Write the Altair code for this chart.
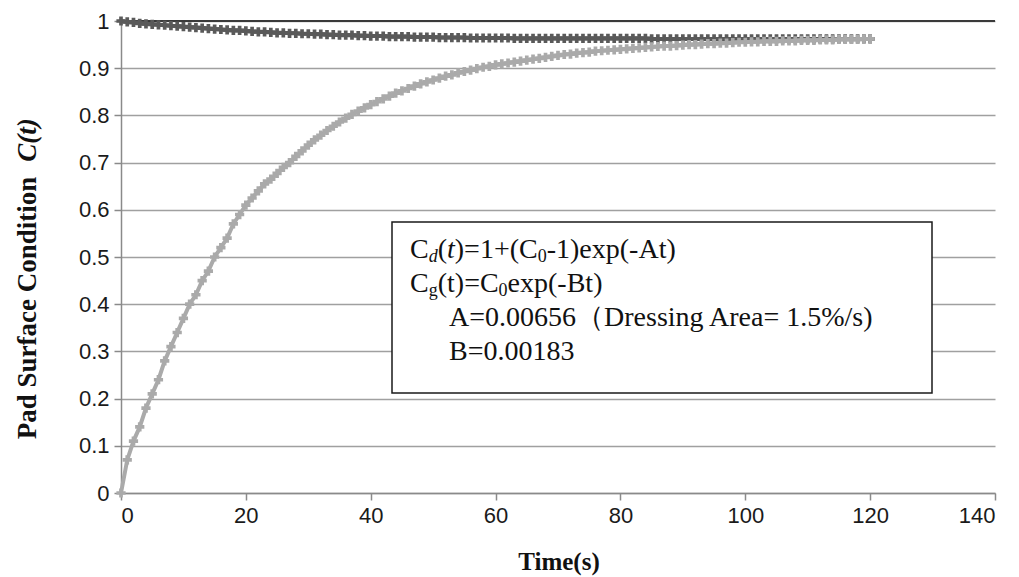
import altair as alt
import pandas as pd

# Elapsed polishing time (s)
time_s = list(range(0, 121))

# Pad surface condition recovering under dressing (light series)
cond_dressing = [
    0.000, 0.070, 0.110, 0.140, 0.180, 0.210, 0.240, 0.280, 0.310, 0.340,
    0.370, 0.400, 0.420, 0.450, 0.470, 0.500, 0.520, 0.540, 0.570, 0.590,
    0.610, 0.625, 0.640, 0.655, 0.665, 0.677, 0.690, 0.700, 0.713, 0.725,
    0.737, 0.748, 0.758, 0.768, 0.777, 0.786, 0.794, 0.802, 0.809, 0.816,
    0.823, 0.829, 0.835, 0.841, 0.847, 0.852, 0.857, 0.862, 0.867, 0.871,
    0.875, 0.879, 0.883, 0.886, 0.890, 0.893, 0.896, 0.899, 0.902, 0.904,
    0.907, 0.909, 0.911, 0.913, 0.915, 0.917, 0.919, 0.921, 0.923, 0.925,
    0.927, 0.929, 0.930, 0.932, 0.933, 0.934, 0.936, 0.937, 0.938, 0.939,
    0.940, 0.941, 0.942, 0.943, 0.944, 0.945, 0.946, 0.947, 0.947, 0.948,
    0.949, 0.950, 0.950, 0.951, 0.952, 0.952, 0.953, 0.953, 0.954, 0.955,
    0.955, 0.956, 0.956, 0.957, 0.957, 0.957, 0.958, 0.958, 0.958, 0.959,
    0.959, 0.959, 0.960, 0.960, 0.960, 0.961, 0.961, 0.961, 0.961, 0.962,
    0.962,
]

# Pad surface condition degrading by glazing (dark series)
cond_glazing = [
    1.000, 0.998, 0.997, 0.995, 0.994, 0.993, 0.992, 0.991, 0.990, 0.989,
    0.988, 0.987, 0.986, 0.985, 0.984, 0.983, 0.982, 0.981, 0.980, 0.980,
    0.979, 0.978, 0.977, 0.977, 0.976, 0.975, 0.975, 0.974, 0.974, 0.973,
    0.973, 0.972, 0.972, 0.971, 0.971, 0.970, 0.970, 0.970, 0.969, 0.969,
    0.968, 0.968, 0.968, 0.967, 0.967, 0.967, 0.967, 0.966, 0.966, 0.966,
    0.966, 0.965, 0.965, 0.965, 0.965, 0.965, 0.964, 0.964, 0.964, 0.964,
    0.964, 0.964, 0.964, 0.963, 0.963, 0.963, 0.963, 0.963, 0.963, 0.963,
    0.963, 0.963, 0.963, 0.963, 0.963, 0.963, 0.963, 0.963, 0.963, 0.963,
    0.963, 0.963, 0.963, 0.963, 0.963, 0.962, 0.962, 0.962, 0.962, 0.962,
    0.962, 0.962, 0.962, 0.962, 0.962, 0.962, 0.962, 0.962, 0.962, 0.962,
    0.962, 0.962, 0.962, 0.962, 0.962, 0.962, 0.962, 0.962, 0.962, 0.962,
    0.962, 0.962, 0.962, 0.962, 0.962, 0.962, 0.962, 0.962, 0.962, 0.962,
    0.962,
]

x_ticks = [0, 20, 40, 60, 80, 100, 120, 140]
y_ticks = [0, 0.1, 0.2, 0.3, 0.4, 0.5, 0.6, 0.7, 0.8, 0.9, 1]

DARK = "#5a5a5a"
LIGHT = "#aaaaaa"
AXIS_GRAY = "#8a8a8a"
SERIF = "Liberation Serif"
SANS = "Liberation Sans"

glazing_df = pd.DataFrame({"time": time_s, "value": cond_glazing})
dressing_df = pd.DataFrame({"time": time_s, "value": cond_dressing})

x_enc = alt.X(
    "time:Q",
    scale=alt.Scale(domain=[0, 140], nice=False),
    axis=alt.Axis(values=x_ticks, grid=False, title=None),
)
y_enc = alt.Y(
    "value:Q",
    scale=alt.Scale(domain=[0, 1], nice=False),
    axis=alt.Axis(values=y_ticks, grid=True, title=None, format="~g"),
)


def series(df, color):
    line = alt.Chart(df).mark_line(color=color, strokeWidth=4).encode(x=x_enc, y=y_enc)
    pts = alt.Chart(df).mark_point(
        shape="cross", filled=True, size=85, color=color, opacity=1
    ).encode(x=x_enc, y=y_enc)
    return line + pts


one = pd.DataFrame({"k": [0]})

# dark rule along the top of the plot area
top_rule = alt.Chart(one).mark_rule(color="#3a3a3a", strokeWidth=2).encode(
    y=alt.datum(1.0)
)

# framed annotation box with the model equations
box = alt.Chart(one).mark_rect(
    fill="white", stroke="#1a1a1a", strokeWidth=1.5
).encode(
    x=alt.value(271), x2=alt.value(811), y=alt.value(201), y2=alt.value(372)
)

FS = 28
SUB = 18
x0 = 289
l1, l2, l3, l4 = 229, 263, 297, 331
pieces = [
    # text, x, y, size, italic
    ("C", x0, l1, FS, False),
    ("d", x0 + 18.7, l1 + 7, SUB, True),
    ("(", x0 + 27.7, l1, FS, False),
    ("t", x0 + 37.0, l1, FS, True),
    (")=1+(C", x0 + 44.8, l1, FS, False),
    ("0", x0 + 127.7, l1 + 7, SUB, False),
    ("-1)exp(-At)", x0 + 136.7, l1, FS, False),
    ("C", x0, l2, FS, False),
    ("g", x0 + 18.7, l2 + 7, SUB, False),
    ("(t)=C", x0 + 27.7, l2, FS, False),
    ("0", x0 + 88.6, l2 + 7, SUB, False),
    ("exp(-Bt)", x0 + 97.6, l2, FS, False),
    ("A=0.00656（Dressing Area= 1.5%/s)", x0 + 39, l3, FS, False),
    ("B=0.00183", x0 + 39, l4, FS, False),
]


def text_layer(rows, italic):
    d = pd.DataFrame(
        [{"text": t, "px": x, "py": y, "fs": s} for t, x, y, s, it in rows if it == italic]
    )
    return alt.Chart(d).mark_text(
        align="left", baseline="middle", font=SERIF, color="#111111",
        fontStyle="italic" if italic else "normal",
    ).encode(
        text="text:N",
        x=alt.X("px:Q", scale=None),
        y=alt.Y("py:Q", scale=None),
        size=alt.Size("fs:Q", scale=None, legend=None),
    )


eq_normal = text_layer(pieces, False)
eq_italic = text_layer(pieces, True)

# axis titles
x_title = alt.Chart(one).mark_text(
    text="Time(s)", font=SERIF, fontWeight="bold", fontSize=25, color="#111111",
    align="center", baseline="middle",
).encode(x=alt.value(438), y=alt.value(541))

y_title_a = alt.Chart(one).mark_text(
    text="Pad Surface Condition", font=SERIF, fontWeight="bold", fontSize=27,
    color="#111111", align="center", baseline="middle", angle=270,
).encode(x=alt.value(-93), y=alt.value(287))

y_title_b = alt.Chart(one).mark_text(
    text="C(t)", font=SERIF, fontWeight="bold", fontStyle="italic", fontSize=27,
    color="#111111", align="center", baseline="middle", angle=270,
).encode(x=alt.value(-93), y=alt.value(119))

chart = alt.layer(
    top_rule,
    series(glazing_df, DARK),
    series(dressing_df, LIGHT),
    box,
    eq_normal,
    eq_italic,
    x_title,
    y_title_a,
    y_title_b,
).properties(
    width=874,
    height=472,
    padding={"left": 121, "top": 21, "right": 24, "bottom": 84},
    autosize=alt.AutoSizeParams(type="none"),
    background="white",
).configure_view(
    stroke=None
).configure_axis(
    domainColor=AXIS_GRAY,
    domainWidth=1.5,
    tickColor=AXIS_GRAY,
    tickWidth=1.5,
    tickSize=7,
    gridColor="#a0a0a0",
    gridWidth=1.5,
    labelFont=SANS,
    labelFontSize=22,
    labelColor="#1a1a1a",
    labelPadding=5,
)

chart.save("out.html", embed_options={"renderer": "svg", "actions": False})
